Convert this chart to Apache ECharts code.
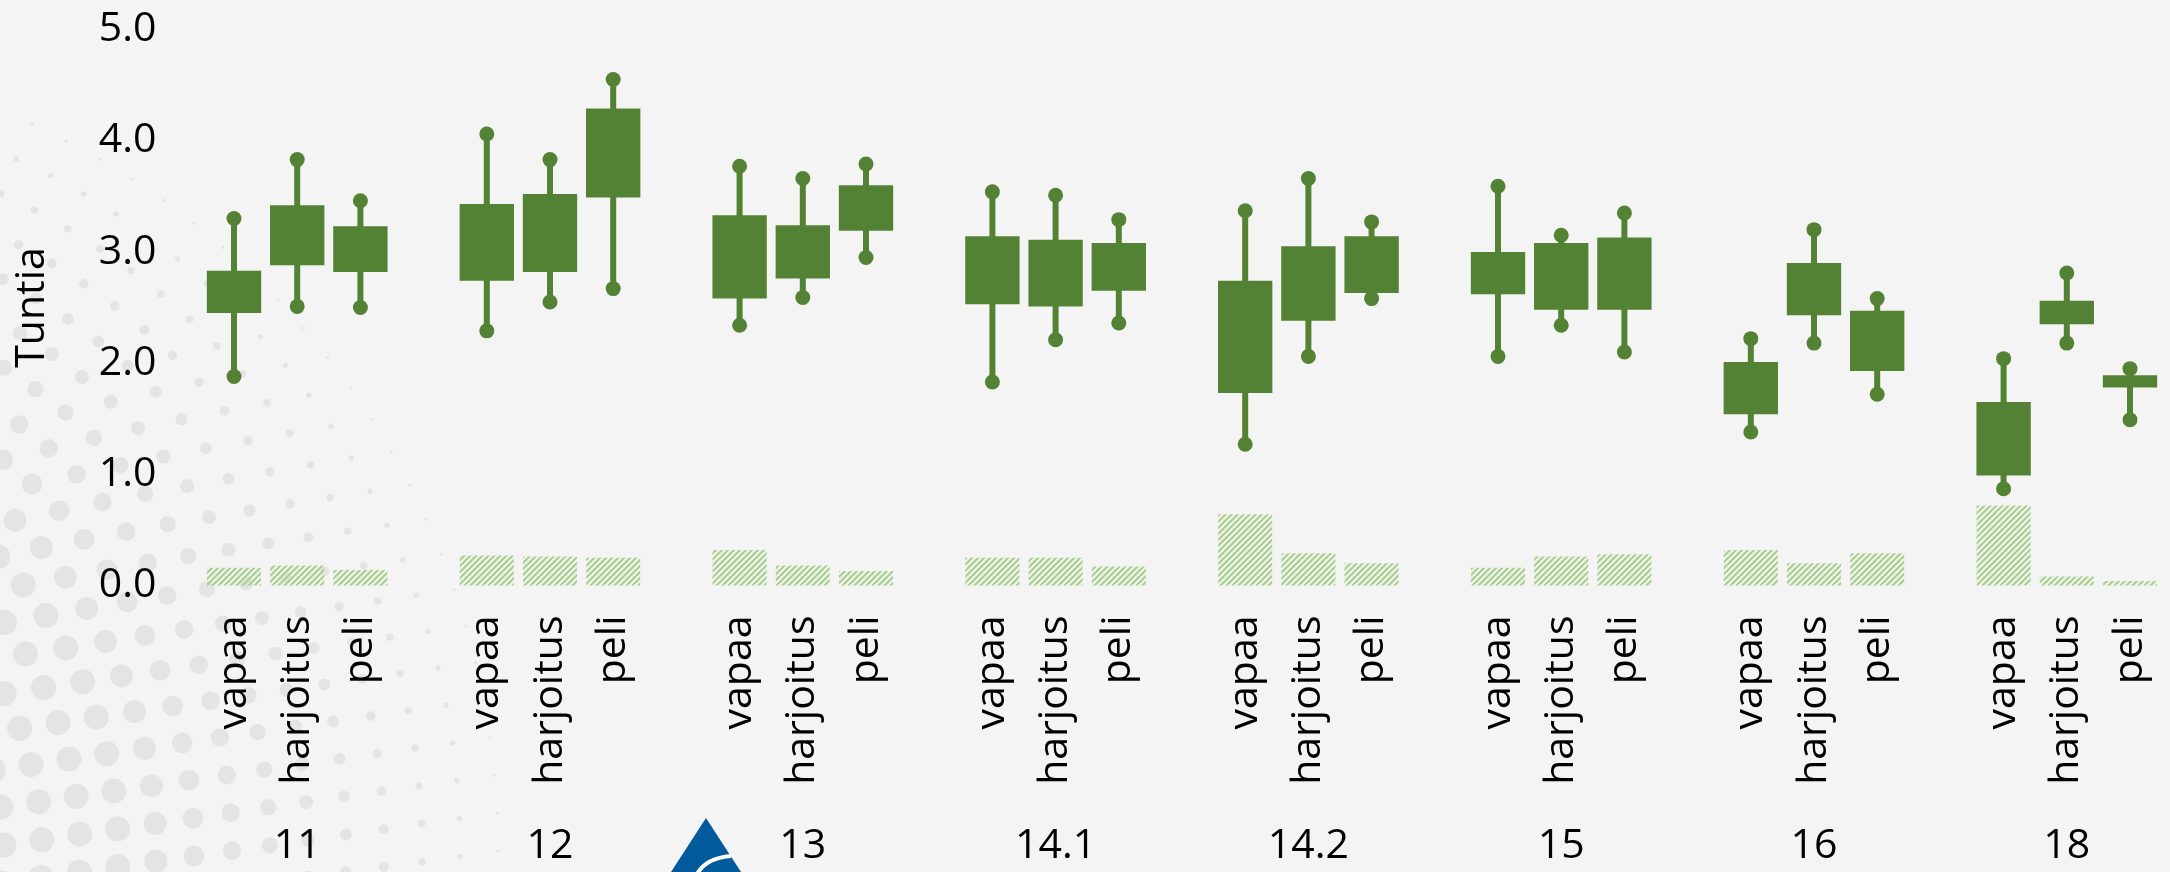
<!DOCTYPE html>
<html lang="fi">
<head>
    <meta charset="UTF-8">
    <title>Tuntia</title>
    <script src="https://cdn.jsdelivr.net/npm/echarts@6/dist/echarts.min.js"></script>
    <style>
        html, body {
            margin: 0;
            padding: 0;
            background: #f4f4f4;
        }
        #chart {
            width: 2170px;
            height: 872px;
        }
    </style>
</head>
<body>
<div id="chart"></div>

<script>
    // ryhmät ja lajit
    const groups = ['11', '12', '13', '14.1', '14.2', '15', '16', '18'];
    const kinds = ['vapaa', 'harjoitus', 'peli'];
    const yTicks = [0, 1, 2, 3, 4, 5];

    // rivi per ryhmä: [vapaa, harjoitus, peli]
    const minVals = [
        [1.88, 2.51, 2.50], [2.29, 2.55, 2.67], [2.34, 2.59, 2.95], [1.83, 2.21, 2.36],
        [1.27, 2.06, 2.58], [2.06, 2.34, 2.10], [1.38, 2.18, 1.72], [0.87, 2.18, 1.49]
    ];
    const q1Vals = [
        [2.45, 2.88, 2.82], [2.74, 2.82, 3.49], [2.58, 2.76, 3.19], [2.53, 2.51, 2.65],
        [1.73, 2.38, 2.63], [2.62, 2.48, 2.48], [1.54, 2.43, 1.93], [0.99, 2.35, 1.78]
    ];
    const q3Vals = [
        [2.83, 3.42, 3.23], [3.43, 3.52, 4.29], [3.33, 3.24, 3.60], [3.14, 3.11, 3.08],
        [2.74, 3.05, 3.14], [3.00, 3.08, 3.13], [2.01, 2.90, 2.47], [1.65, 2.56, 1.89]
    ];
    const maxVals = [
        [3.30, 3.83, 3.46], [4.06, 3.83, 4.55], [3.77, 3.66, 3.79], [3.54, 3.51, 3.29],
        [3.37, 3.66, 3.27], [3.59, 3.15, 3.35], [2.22, 3.20, 2.58], [2.04, 2.81, 1.95]
    ];
    // vinoviivoitetut pylväät
    const barVals = [
        [0.16, 0.18, 0.14], [0.27, 0.26, 0.25], [0.32, 0.18, 0.13], [0.25, 0.25, 0.17],
        [0.64, 0.29, 0.20], [0.16, 0.26, 0.28], [0.32, 0.20, 0.29], [0.72, 0.08, 0.04]
    ];

    const green = '#548235';
    const font = 'Open Sans';

    // x-akselin paikat: 3 lajia ja tyhjä väli ryhmien välissä
    let slots = [], groupSlots = [], boxData = [], barData = [];
    groups.forEach((g, gi) => {
        kinds.forEach((k, ki) => {
            let i = slots.length;
            slots.push(k);
            groupSlots.push(ki === 1 ? g : '');
            boxData.push([i, minVals[gi][ki], q1Vals[gi][ki], q3Vals[gi][ki], maxVals[gi][ki]]);
            barData.push([i, barVals[gi][ki]]);
        });
        if (gi < groups.length - 1) {
            slots.push('');
            groupSlots.push('');
        }
    });

    // vinoviivakuvio pylväisiin
    function hatch() {
        let c = document.createElement('canvas');
        c.width = c.height = 6;
        let ctx = c.getContext('2d');
        ctx.strokeStyle = '#a9d18e';
        ctx.lineWidth = 2.2;
        ctx.beginPath();
        ctx.moveTo(-1, 7); ctx.lineTo(7, -1);
        ctx.moveTo(-1, 1); ctx.lineTo(1, -1);
        ctx.moveTo(5, 7); ctx.lineTo(7, 5);
        ctx.stroke();
        return c;
    }

    // laatikko + viikset, päissä pallot
    function renderBox(params, api) {
        let x = api.value(0);
        let lo = api.coord([x, api.value(1)]);
        let q1 = api.coord([x, api.value(2)]);
        let q3 = api.coord([x, api.value(3)]);
        let hi = api.coord([x, api.value(4)]);
        let w = api.size([1, 0])[0] * 0.86;
        return {
            type: 'group',
            children: [
                {type: 'line', shape: {x1: lo[0], y1: lo[1], x2: hi[0], y2: hi[1]}, style: {stroke: green, lineWidth: 6}},
                {type: 'rect', shape: {x: lo[0] - w / 2, y: q3[1], width: w, height: q1[1] - q3[1]}, style: {fill: green}},
                {type: 'circle', shape: {cx: lo[0], cy: lo[1], r: 7.5}, style: {fill: green}},
                {type: 'circle', shape: {cx: hi[0], cy: hi[1], r: 7.5}, style: {fill: green}}
            ]
        };
    }

    // taustan pisterasteri vasemmassa alakulmassa
    let decor = [];
    for (let r = 38; r < 850; r += 38) {
        let size = r < 420 ? 25 : 25 * (850 - r) / 430;
        if (size < 1.5) continue;
        let step = 38 / r;
        for (let a = -Math.PI; a < Math.PI; a += step) {
            let x = -300 + r * Math.cos(a), y = 850 + r * Math.sin(a);
            if (x < -15 || y < -15 || y > 887) continue;
            decor.push({type: 'circle', silent: true, z: 0, shape: {cx: x, cy: y, r: size / 2}, style: {fill: '#e4e4e4'}});
        }
    }
    // logo alareunassa
    decor.push({type: 'polygon', silent: true, z: 10, shape: {points: [[706, 818], [671, 872], [741, 872]]}, style: {fill: '#005a9c'}});
    decor.push({type: 'bezierCurve', silent: true, z: 11, shape: {x1: 697, y1: 874, cpx1: 706, cpy1: 858, x2: 731, y2: 856}, style: {stroke: '#fff', lineWidth: 4, fill: null}});

    let chart = echarts.init(document.getElementById('chart'));
    chart.setOption({
        backgroundColor: '#f4f4f4',
        animation: false,
        graphic: decor,
        grid: {
            left: 202.4,
            width: 1959.2,
            top: 29.5,
            height: 556,
            containLabel: false,
            outerBoundsMode: 'none'
        },
        xAxis: [
            {
                type: 'category',
                data: slots,
                position: 'bottom',
                axisLine: {show: false},
                axisTick: {show: false},
                axisLabel: {interval: 0, rotate: 90, margin: 30, fontSize: 41, fontFamily: font, color: '#000'}
            },
            {
                type: 'category',
                data: groupSlots,
                position: 'bottom',
                axisLine: {show: false},
                axisTick: {show: false},
                axisLabel: {interval: 0, margin: 240, fontSize: 41, fontFamily: font, color: '#000'}
            }
        ],
        yAxis: {
            type: 'value',
            min: yTicks[0],
            max: yTicks[yTicks.length - 1],
            interval: 1,
            name: 'Tuntia',
            nameLocation: 'middle',
            nameGap: 150,
            nameTextStyle: {fontSize: 41, fontFamily: font, color: '#000'},
            splitLine: {show: false},
            axisLine: {show: false},
            axisTick: {show: false},
            axisLabel: {margin: 46, fontSize: 41, fontFamily: font, color: '#000', formatter: v => v.toFixed(1)}
        },
        series: [
            {
                type: 'bar',
                name: 'osuus',
                barWidth: 54,
                itemStyle: {color: {image: hatch(), repeat: 'repeat'}},
                data: barData
            },
            {
                type: 'custom',
                name: 'tunnit',
                renderItem: renderBox,
                encode: {x: 0, y: [1, 2, 3, 4]},
                z: 3,
                data: boxData
            }
        ]
    });
</script>
</body>
</html>
